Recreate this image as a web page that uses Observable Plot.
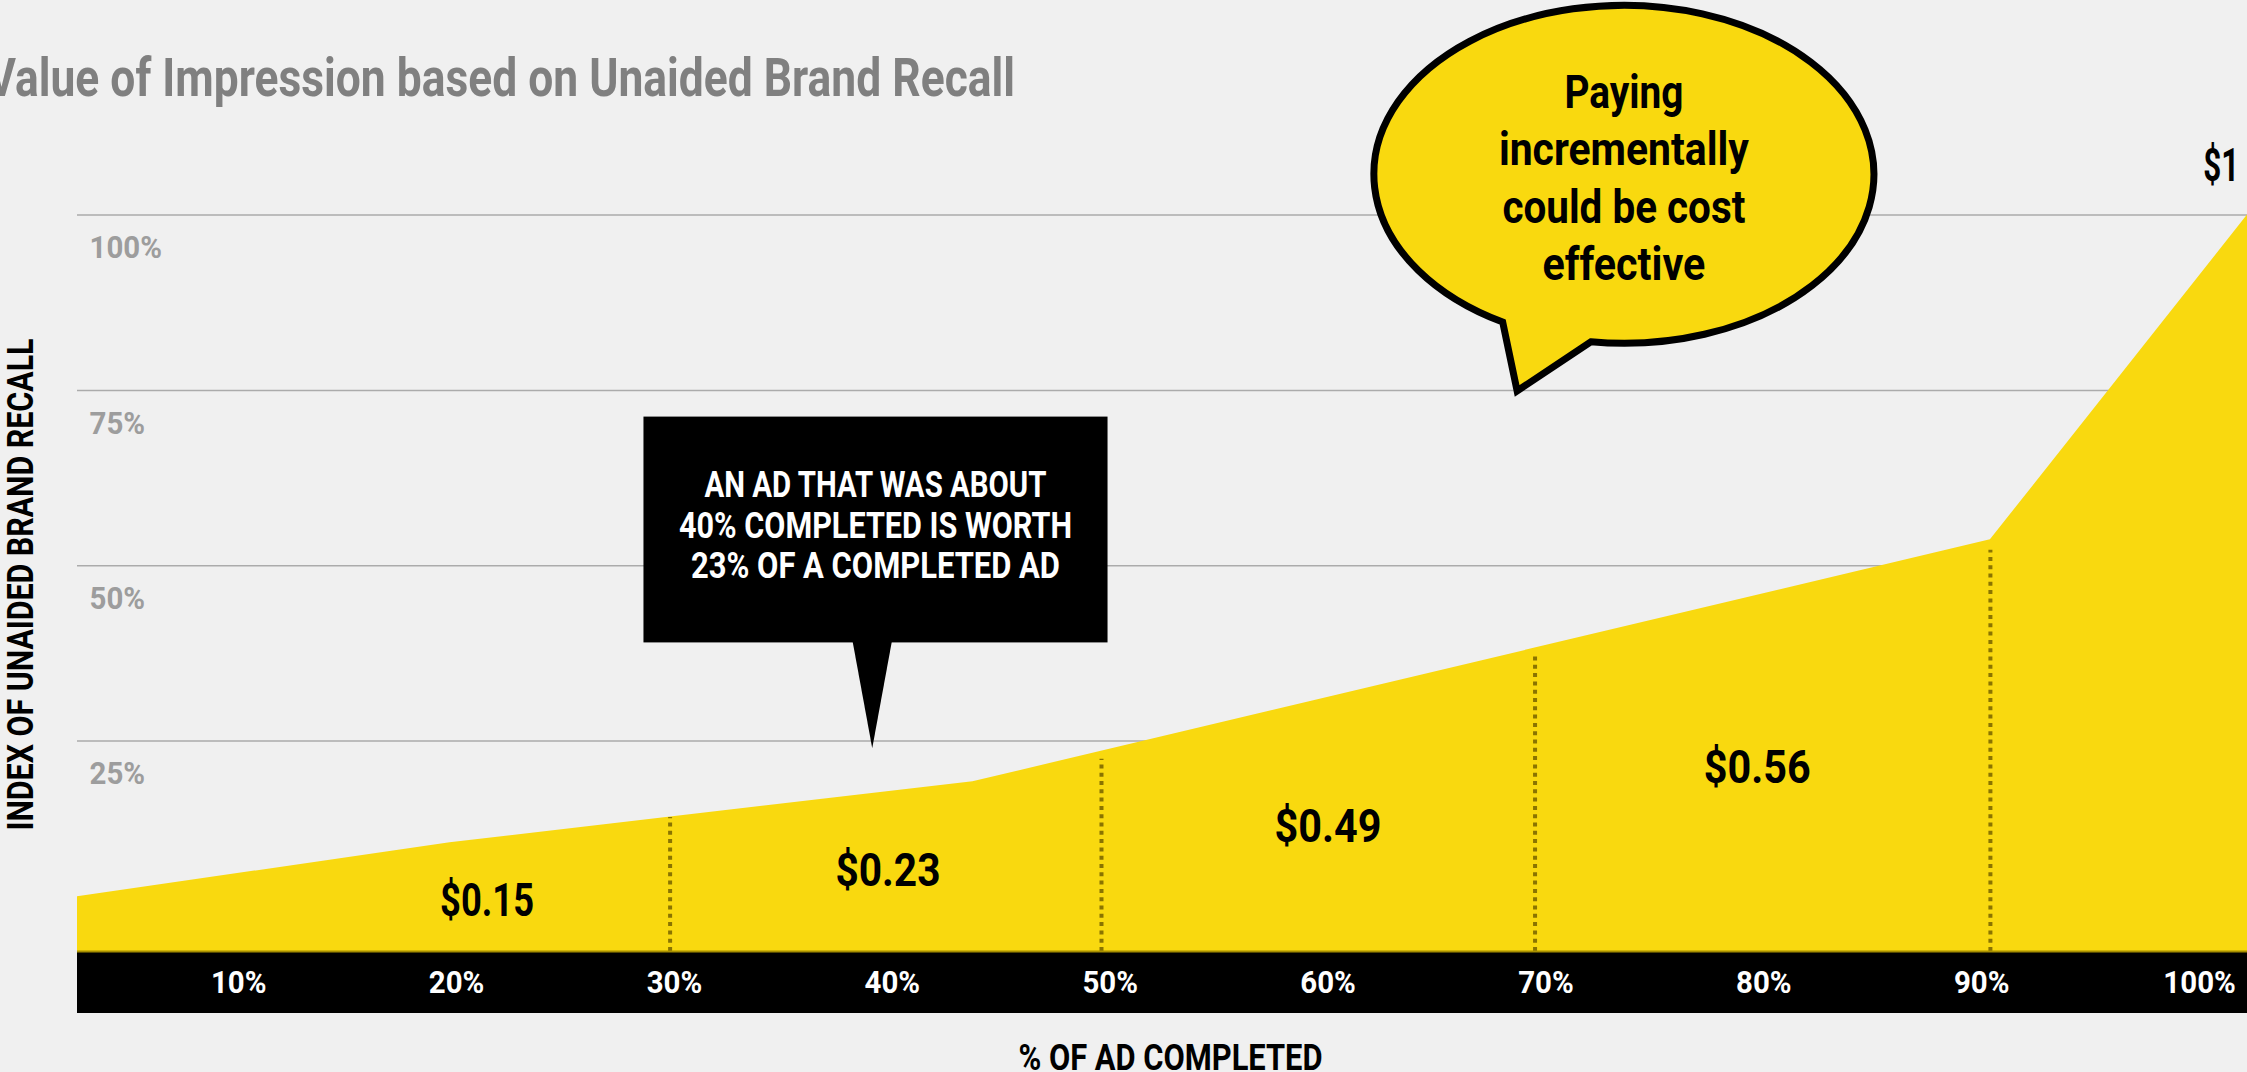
<!DOCTYPE html>
<html>
<head>
<meta charset="utf-8">
<script src="https://cdn.jsdelivr.net/npm/d3@7"></script>
<script src="https://cdn.jsdelivr.net/npm/@observablehq/plot@0.6"></script>
<style>
  html, body { margin: 0; padding: 0; background: #f0f0f0; overflow: hidden; }
  #wrap { position: relative; width: 2247px; height: 1072px; }
  #chart { position: absolute; left: 0; top: 0; }
  #title { position: absolute; left: -13px; top: 52px; font: 700 53px Roboto, sans-serif; line-height: 1;
           color: #808080; white-space: nowrap; transform-origin: 0 0; }
</style>
</head>
<body>
<div id="wrap">
  <div id="chart"></div>
  <div id="title">Value of Impression based on Unaided Brand Recall</div>
</div>
<script>
// ---------- data ----------
const adCompleted = [2.6, 19.7, 43.7, 90.4, 102.2];      // % of ad completed (area vertices)
const recallIndex = [2.8, 10.5, 19.2, 53.7, 100];        // index of unaided brand recall (%)
const areaBaseline = -5;                                  // the area's floor sits a bit below 0%
const yTicks = [25, 50, 75, 100];
const xTicks = [10, 20, 30, 40, 50, 60, 70, 80, 90, 100];
const dividerX = [29.8, 49.6, 69.5, 90.4];
const dividerTop = [14.1, 22.4, 37.5, 52.2];
const priceLabels = ["$0.15", "$0.23", "$0.49", "$0.56", "$1"];
const priceX = [21.4, 39.8, 60.0, 79.7, 101.0];
const priceY = [2.1, 6.4, 12.7, 21.1, 106.9];
const boxLines = ["AN AD THAT WAS ABOUT", "40% COMPLETED IS WORTH", "23% OF A COMPLETED AD"];
const boxX = [28.6, 49.9];
const boxY = [39.0, 71.2];
const boxStem = [38.2, 40.0];
const boxTip = [39.1, 23.9];
const bubbleLines = ["Paying", "incrementally", "could be cost", "effective"];
const bubbleCenter = [73.6, 105.75];
const bubbleTip = [68.7, 74.85];
const yTitle = "INDEX OF UNAIDED BRAND RECALL";
const xTitle = "% OF AD COMPLETED";

// ---------- styles ----------
const FONT = "Roboto, 'DejaVu Sans', sans-serif";
const YELLOW = "#f9d90f";
const textWidths = new Map([
  ["$0.15", 94], ["$0.23", 105], ["$0.49", 107], ["$0.56", 107], ["$1", 36],
  [yTitle, 492], [xTitle, 304],
  ["AN AD THAT WAS ABOUT", 342], ["40% COMPLETED IS WORTH", 393], ["23% OF A COMPLETED AD", 369],
  ["Paying", 119], ["incrementally", 250], ["could be cost", 243], ["effective", 163]
]);
const defaultCondense = 0.92;

const points = adCompleted.map((x, i) => ({x, y: recallIndex[i]}));
const dividers = dividerX.map((x, i) => ({x, top: dividerTop[i]}));
const prices = priceLabels.map((t, i) => ({t, x: priceX[i], y: priceY[i]}));

function bandMark(index, scales, values, dims) {
  return d3.create("svg:rect")
    .attr("x", dims.marginLeft)
    .attr("y", dims.height - dims.marginBottom)
    .attr("width", dims.width - dims.marginLeft - dims.marginRight)
    .attr("height", 62)
    .attr("fill", "#000")
    .node();
}

function boxMark(index, scales) {
  const {x, y} = scales;
  const g = d3.create("svg:g");
  const x1 = x(boxX[0]), x2 = x(boxX[1]), yT = y(boxY[1]), yB = y(boxY[0]);
  g.append("rect").attr("x", x1).attr("y", yT).attr("width", x2 - x1).attr("height", yB - yT).attr("fill", "#000");
  g.append("path")
    .attr("d", `M${x(boxStem[0])},${yB - 1}L${x(boxStem[1])},${yB - 1}L${x(boxTip[0])},${y(boxTip[1])}Z`)
    .attr("fill", "#000");
  const cx = (x1 + x2) / 2;
  const offs = [80.6, 121.6, 161.6];
  boxLines.forEach((s, i) => {
    g.append("text").attr("x", cx).attr("y", yT + offs[i])
      .attr("text-anchor", "middle").attr("fill", "#fff")
      .attr("font-family", FONT).attr("font-size", 37).attr("font-weight", 700)
      .text(s);
  });
  return g.node();
}

function bubbleMark(index, scales) {
  const {x, y} = scales;
  const g = d3.create("svg:g");
  const cx = x(bubbleCenter[0]), cy = y(bubbleCenter[1]);
  const rx = 250, ry = 169;
  const a1 = 119 * Math.PI / 180, a2 = 97.6 * Math.PI / 180;
  const p1 = [cx + rx * Math.cos(a1), cy + ry * Math.sin(a1)];
  const p2 = [cx + rx * Math.cos(a2), cy + ry * Math.sin(a2)];
  g.append("path")
    .attr("d", `M${p1[0]},${p1[1]}A${rx},${ry} 0 1 1 ${p2[0]},${p2[1]}L${x(bubbleTip[0])},${y(bubbleTip[1])}Z`)
    .attr("fill", YELLOW).attr("stroke", "#000").attr("stroke-width", 7).attr("stroke-linejoin", "miter");
  const offs = [-65.9, -9.2, 48.5, 105.8];
  bubbleLines.forEach((s, i) => {
    g.append("text").attr("x", cx).attr("y", cy + offs[i])
      .attr("text-anchor", "middle").attr("fill", "#000")
      .attr("font-family", FONT).attr("font-size", 46).attr("font-weight", 700)
      .text(s);
  });
  return g.node();
}

const chart = Plot.plot({
  width: 2247,
  height: 1072,
  marginLeft: 77,
  marginRight: 0,
  marginTop: 0,
  marginBottom: 121,
  x: {domain: [adCompleted[0], adCompleted[adCompleted.length - 1]], axis: null},
  y: {domain: [areaBaseline, 130.6], axis: null},
  style: {background: "transparent", fontFamily: FONT, overflow: "visible"},
  marks: [
    Plot.ruleY(yTicks, {stroke: "#ababab", strokeWidth: 1.5}),
    Plot.text(yTicks, {y: d => d, text: d => `${d}%`, frameAnchor: "left", dx: 12, dy: 33,
      textAnchor: "start", lineAnchor: "middle", fill: "#9d9d9d", fontSize: 32, fontWeight: 700}),
    Plot.areaY(points, {x: "x", y1: areaBaseline, y2: "y", fill: YELLOW}),
    Plot.ruleX(dividers, {x: "x", y1: areaBaseline, y2: "top", stroke: "#8a7400", strokeWidth: 4, strokeDasharray: "4 4.3"}),
    Plot.text(prices, {x: "x", y: "y", text: "t", fill: "#000", fontSize: 46, fontWeight: 700}),
    bandMark,
    Plot.ruleY([areaBaseline], {stroke: "#a88f00", strokeWidth: 2}),
    Plot.text(xTicks, {x: d => d, text: d => `${d}%`, frameAnchor: "bottom", dy: 31,
      lineAnchor: "middle", fill: "#fff", fontSize: 32, fontWeight: 700}),
    Plot.text([xTitle], {text: d => d, frameAnchor: "bottom", dx: 8, dy: 106.5,
      textAnchor: "middle", lineAnchor: "middle", fill: "#000", fontSize: 36, fontWeight: 700}),
    Plot.text([yTitle], {text: d => d, frameAnchor: "left", dx: -56, dy: 108.5, rotate: -90,
      textAnchor: "middle", lineAnchor: "middle", fill: "#000", fontSize: 36, fontWeight: 700}),
    boxMark,
    bubbleMark
  ]
});

document.getElementById("chart").appendChild(chart);

// condense the bold sans to match the condensed display face of the original
chart.querySelectorAll("text").forEach(t => {
  const spans = t.querySelectorAll("tspan");
  const leaves = spans.length ? Array.from(spans) : [t];
  leaves.forEach(el => {
    const s = el.textContent;
    const natural = el.getComputedTextLength();
    const target = textWidths.has(s) ? textWidths.get(s) : natural * defaultCondense;
    el.setAttribute("textLength", target);
    el.setAttribute("lengthAdjust", "spacingAndGlyphs");
  });
});

const title = document.getElementById("title");
const tw = title.getBoundingClientRect().width;
title.style.transform = `scaleX(${1028 / tw})`;
</script>
</body>
</html>
